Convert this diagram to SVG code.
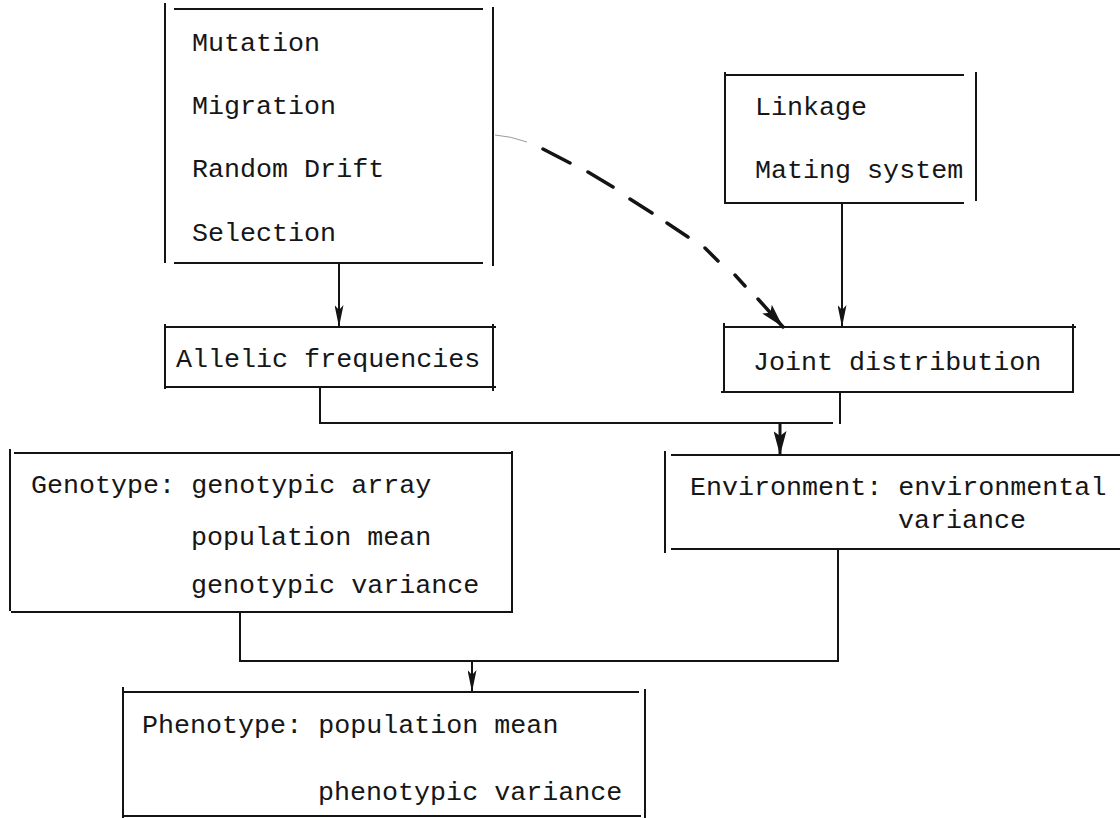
<svg xmlns="http://www.w3.org/2000/svg" width="1120" height="818" viewBox="0 0 1120 818">
  <style>
    .bx { stroke: #141414; stroke-width: 2; fill: none; stroke-linecap: square; }
    .cn { stroke: #141414; stroke-width: 2; fill: none; }
    .bold { stroke-width: 3; }
    .dash { stroke: #141414; stroke-width: 3.5; fill: none; stroke-linecap: round; }
    .faint { stroke: #9a9a9a; stroke-width: 1; fill: none; }
    text { font-family: "Liberation Mono", "DejaVu Sans Mono", monospace; font-size: 26.7px; fill: #161616; }
  </style>
  <defs>
    <marker id="arrThin" markerUnits="userSpaceOnUse" viewBox="0 0 22 9" markerWidth="22" markerHeight="9" refX="22" refY="4.5" orient="auto">
      <path d="M0,0 L22,4.5 L0,9 L5,4.5 z" fill="#141414"/>
    </marker>
    <marker id="arrBold" markerUnits="userSpaceOnUse" viewBox="0 0 24 13" markerWidth="24" markerHeight="13" refX="24" refY="6.5" orient="auto">
      <path d="M0,0 L24,6.5 L0,13 L5,6.5 z" fill="#141414"/>
    </marker>
  </defs>
  <rect width="1120" height="818" fill="#ffffff"/>

  <g id="forces">
    <line class="bx" x1="165" y1="4" x2="165" y2="262"/>
    <line class="bx" x1="493" y1="8" x2="493" y2="265"/>
    <line class="bx" x1="175" y1="9" x2="482" y2="9"/>
    <line class="bx" x1="175" y1="263" x2="482" y2="263"/>
    <text x="192" y="51">Mutation</text>
    <text x="192" y="114">Migration</text>
    <text x="192" y="177">Random Drift</text>
    <text x="192" y="241">Selection</text>
  </g>

  <g id="linkage">
    <line class="bx" x1="725" y1="73" x2="725" y2="203"/>
    <line class="bx" x1="976" y1="73" x2="976" y2="200"/>
    <line class="bx" x1="725" y1="75" x2="963" y2="75"/>
    <line class="bx" x1="725" y1="203" x2="963" y2="203"/>
    <text x="755" y="115">Linkage</text>
    <text x="755" y="178">Mating system</text>
  </g>

  <g id="allelic">
    <line class="bx" x1="165" y1="325" x2="165" y2="388"/>
    <line class="bx" x1="493" y1="325" x2="493" y2="390"/>
    <line class="bx" x1="165" y1="327" x2="495" y2="327"/>
    <line class="bx" x1="165" y1="387" x2="495" y2="387"/>
    <text x="176" y="367">Allelic frequencies</text>
  </g>

  <g id="joint">
    <line class="bx" x1="724" y1="324" x2="724" y2="392"/>
    <line class="bx" x1="1073" y1="325" x2="1073" y2="392"/>
    <line class="bx" x1="724" y1="327" x2="1075" y2="327"/>
    <line class="bx" x1="722" y1="392" x2="1073" y2="392"/>
    <text x="753" y="370">Joint distribution</text>
  </g>

  <g id="environment">
    <line class="bx" x1="665" y1="452" x2="665" y2="552"/>
    <line class="bx" x1="672" y1="455" x2="1120" y2="455"/>
    <line class="bx" x1="672" y1="549" x2="1120" y2="549"/>
    <text x="690" y="495">Environment: environmental</text>
    <text x="898" y="528">variance</text>
  </g>

  <g id="genotype">
    <line class="bx" x1="10" y1="450" x2="10" y2="610"/>
    <line class="bx" x1="512" y1="452" x2="512" y2="612"/>
    <line class="bx" x1="15" y1="453" x2="512" y2="453"/>
    <line class="bx" x1="12" y1="612" x2="512" y2="612"/>
    <text x="31" y="493">Genotype: genotypic array</text>
    <text x="191" y="545">population mean</text>
    <text x="191" y="593">genotypic variance</text>
  </g>

  <g id="phenotype">
    <line class="bx" x1="123" y1="688" x2="123" y2="817"/>
    <line class="bx" x1="645" y1="690" x2="645" y2="818"/>
    <line class="bx" x1="123" y1="692" x2="638" y2="692"/>
    <line class="bx" x1="123" y1="816" x2="640" y2="816"/>
    <text x="142" y="733">Phenotype: population mean</text>
    <text x="318" y="800">phenotypic variance</text>
  </g>

  <g id="connectors">
    <line class="cn" x1="339" y1="263" x2="339" y2="327" marker-end="url(#arrThin)"/>
    <line class="cn" x1="842" y1="203" x2="842" y2="327" marker-end="url(#arrThin)"/>
    <polyline class="cn" points="320,387 320,423 833,423"/>
    <line class="cn" x1="840" y1="392" x2="840" y2="424"/>
    <line class="cn bold" x1="780" y1="423" x2="780" y2="455" marker-end="url(#arrBold)"/>
    <polyline class="cn" points="240,612 240,661 838,661 838,549"/>
    <line class="cn" x1="472" y1="661" x2="472" y2="692" marker-end="url(#arrThin)"/>
    <path class="faint" d="M495,135 Q510,136 527,142"/>
    <path class="dash" d="M543,149 L570,163 M588,172 L613,187 M630,199 L652,213 M667,223 L688,237 M705,248 L718,261 M735,275 L745,286 M758,299 L783,327" marker-end="url(#arrBold)"/>
  </g>
</svg>
